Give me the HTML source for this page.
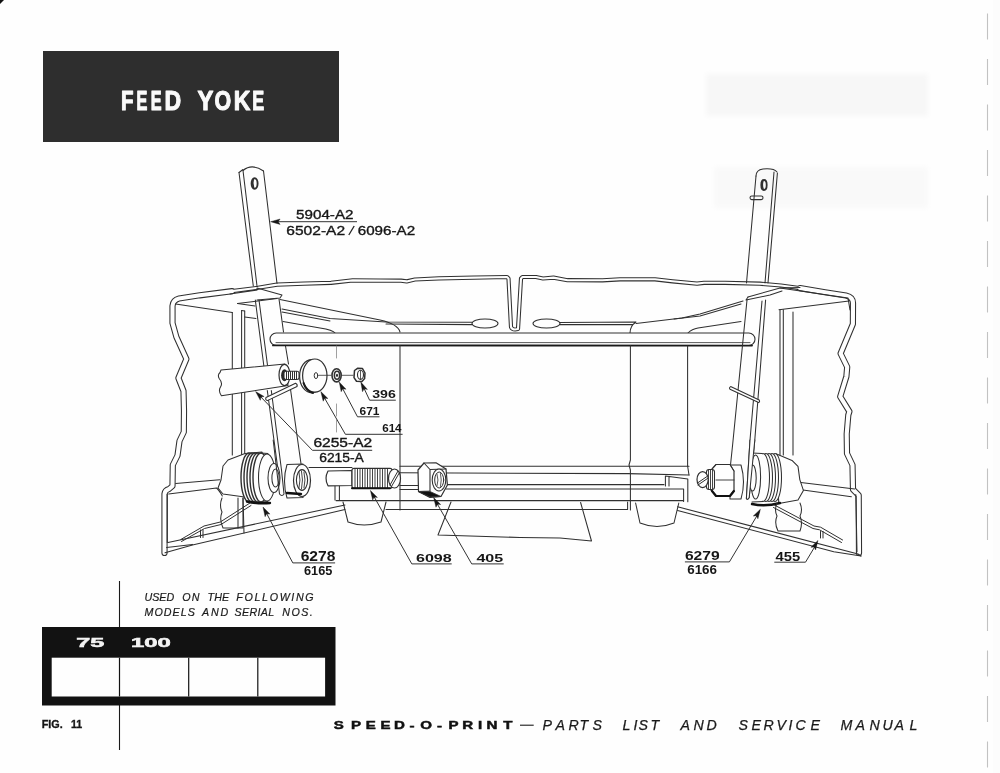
<!DOCTYPE html>
<html><head><meta charset="utf-8"><title>Feed Yoke</title>
<style>
html,body{margin:0;padding:0;background:#fefefe;}
body{width:1000px;height:773px;overflow:hidden;font-family:"Liberation Sans",sans-serif;}
svg{display:block;filter:grayscale(1);}
</style></head><body>
<svg width="1000" height="773" viewBox="0 0 1000 773" font-family="Liberation Sans, sans-serif">
<rect x="0" y="0" width="1000" height="773" fill="#fefefe"/>
<!-- page edge shading -->
<path d="M0 0 L4 0 L0 4 Z" fill="#111"/>
<rect x="997" y="768" width="3" height="5" fill="#222"/>
<rect x="993" y="0" width="7" height="773" fill="#fcfcfc"/>
<!-- faint bleed-through -->
<defs><filter id="bl" x="-10%" y="-30%" width="120%" height="160%"><feGaussianBlur stdDeviation="2.5"/></filter></defs>
<g filter="url(#bl)"><rect x="706" y="74" width="222" height="42" fill="#f7f7f7"/>
<rect x="714" y="167" width="214" height="41" fill="#f9f9f9"/></g>
<!-- dashed right margin line -->
<line x1="987.5" y1="13.5" x2="987.5" y2="770" stroke="#c2c2c2" stroke-width="1.1" stroke-dasharray="26 19.5"/>

<!-- title box -->
<rect x="43" y="51" width="296" height="91" fill="#2e2e2e"/>
<g font-size="27.0" font-weight="bold" fill="#fafafa" stroke="#fafafa" stroke-width="1.1" stroke-linejoin="round"><text transform="translate(120.98,109.9) scale(0.758,1)">F</text><text transform="translate(136.38,109.9) scale(0.605,1)">E</text><text transform="translate(150.68,109.9) scale(0.605,1)">E</text><text transform="translate(164.49,109.9) scale(0.854,1)">D</text><text transform="translate(197.59,109.9) scale(0.884,1)">Y</text><text transform="translate(214.38,109.9) scale(0.793,1)">O</text><text transform="translate(233.79,109.9) scale(0.854,1)">K</text><text transform="translate(252.26,109.9) scale(0.663,1)">E</text></g>

<!-- DIAGRAM -->
<g id="diagram" fill="none" stroke="#303030" stroke-width="1.05" stroke-linejoin="round" stroke-linecap="round">
<g id="framewrap" stroke-width="6.2"><use href="#frameL"/><use href="#frameR"/></g>
<g stroke-width="4.2"><use href="#frameT"/></g>
<g stroke="#fefefe" stroke-width="4.1"><use href="#frameL"/><use href="#frameR"/></g>
<g stroke="#fefefe" stroke-width="2.1"><use href="#frameT"/></g>

<!-- left yoke arm -->
<path d="M243,170.5 Q252,163 263.5,171"/>
<path d="M239,172.5 L243,169.5"/>
<path d="M239,172.5 L253.3,286"/>
<path d="M243,170.5 L257,286"/>
<path d="M263.5,171 L277,283.5"/>
<path d="M255.3,300 L264,367"/>
<path d="M259,300 L267.6,366"/>
<path d="M279,299 L283.5,332"/>
<path d="M267.3,390.5 L278,470"/>
<path d="M271.3,390.5 L281.5,470"/>
<path d="M290.5,389.3 L301,463.8"/>
<path d="M285.5,346 L288.5,364"/>
<ellipse cx="254.6" cy="183.5" rx="3" ry="5.2" stroke-width="1.9"/><path d="M253.2,179.5 Q252,183.5 253.5,187.5" stroke-width="1.6"/>
<!-- yoke guide plates (left) -->
<path d="M230,294 L257,290 L257,288 L282,295 L280,298 L257,300"/>
<path d="M237.5,303.5 L277,298.5"/>
<path d="M237.5,303.5 L255,306"/>
<path d="M280,299.5 L380,320 Q398,324 400,332"/>
<path d="M282,309 L330,318.5 L386,322 L472,322.2 M386,324 L472,324.6"/>
<path d="M282,312 L330,321"/>
<path d="M283,321.5 L320,328 Q333,330 335,333"/>
<ellipse cx="485" cy="323.5" rx="13" ry="4.5"/>
<ellipse cx="546.5" cy="323.5" rx="13.5" ry="4.5"/>
<path d="M560,322.4 L636,322 Q630,326 630,333 M560,324.6 L633,324.4"/>
<path d="M636,323.5 L682,318 L700,314 L743,301"/>
<path d="M674,319 L700,316 L741,304"/>
<path d="M688,333 Q692,329 698,328 L741,321.5"/>
<!-- left back corner lines -->
<path d="M175.6,304 L232.3,312.6"/>
<path d="M232.3,312.6 L232.3,455"/>
<path d="M241.6,310.5 L241.6,455"/>
<path d="M244.7,311 L244.7,455"/>
<path d="M241.6,310.5 L244.7,311"/>
<path d="M244.7,317 L256,318.5"/>
<!-- upper rod -->
<rect x="270" y="333" width="485" height="12.5" rx="6.2" stroke-width="1.1" fill="#fefefe"/>
<path d="M276,342.6 L750,342.6" stroke-width="0.8"/>
<path d="M273,345.4 L752,345.6" stroke-width="1.9" stroke="#1a1a1a"/>
<!-- centre block -->
<path d="M400,345.5 L400,510"/>
<path d="M630.4,345.5 L630.4,460 L629,465 L630.4,470 L630.4,510"/>
<path d="M687.6,346 L687.6,466 L689,475"/>
<path d="M336.5,346 L336.5,362 M336.5,404 L336.5,432" stroke="#888" stroke-dasharray="12 4" stroke-width="0.8"/>
<!-- right yoke arm -->
<path d="M756,176 Q756,170 763,169 Q774,168 777,172"/>
<path d="M756,176 L746.5,283"/>
<path d="M774,172 L765,283"/>
<path d="M777.4,173 L768,283"/>
<path d="M747,300 L732.6,445 L730.5,465"/>
<path d="M762,301 L750,440 L746.4,498.5 Q747.5,500.5 749.2,497.5 L754.8,440 L765.6,300"/>
<ellipse cx="764" cy="185" rx="2.7" ry="5" stroke-width="1.8"/><path d="M762.8,181.2 Q761.8,185 763,188.8" stroke-width="1.5"/>
<rect x="750" y="196" width="13" height="3.6" rx="1.8"/>
<path d="M730.6,386.6 L759.2,400 Q760.2,401.8 758.6,402.6 L730,389.2 Q728.8,387.6 730.6,386.6 Z" fill="#fefefe"/>
<!-- right guide plates -->
<path d="M748,297 L780,288 L800,287.5"/>
<path d="M748,297 L746,300 L770,295 L782,291"/>
<path d="M780,288 L848,298 L850,310"/>

<!-- feed bar region -->
<path d="M309,467.5 L352,467.5 M400,466.3 L689,466.3"/>
<path d="M400,472.8 L628,473.6 L689,475"/>
<path d="M400,485.5 L418,485.5 M446,484.6 L664,484.6"/>
<path d="M400,489.4 L418,489.4 M446,489 L683.6,489 L683.6,501.5"/>
<path d="M336,500.6 L683.6,500.6"/>
<path d="M386,509.4 L627.6,509.4 L627.6,502"/>
<path d="M665.4,476 L687.8,479 L687.8,501.8 M665.4,476 L665.4,486 M669,476.5 L669,486"/>
<path d="M335,486 L335,500 M339.4,486 L339.4,500"/>
<!-- cones -->
<path d="M343,502 L348,522 Q364,528 381,522 L386,502"/>
<path d="M635.6,503 L640,523 Q657,530 674,523 L678.8,503"/>
<!-- paper sheet -->
<path d="M451,502 L438,535 L470,536 L520,537.5 L560,538 L591.5,541 L580.6,502.5"/>
<!-- left bottom flange -->
<path d="M165,552.8 L192.5,545 L345,509.5"/>
<path d="M166.6,547.6 L192.5,544.4"/>
<path d="M168,542.5 L345,505"/>
<path d="M167.3,494.6 L167.3,542.5"/>
<path d="M175.7,483.6 L219.7,479.7"/>
<path d="M168.6,494 L216.5,488 Q219,490 222.3,496"/>
<!-- right bottom flange -->
<path d="M677.6,506.8 L858,554 L861,556"/>
<path d="M677.6,510.4 L833.8,551.8 L861,556"/>
<path d="M800.8,482.5 L854.7,489"/>
<path d="M803,490 L851.4,496.8"/>
<path d="M855.8,494.6 L857,551.8"/>

<!-- ===== left sleeve / stud / washers ===== -->
<path d="M221,370 L285,364 L288,385.6 L221.4,395.7 Q218,391 220.5,387 Q223,383 219.5,379 Q217,375 220,372.5 Z" fill="#fefefe"/>
<ellipse cx="284.5" cy="375" rx="5.5" ry="10.6" fill="#fefefe" stroke-width="1.2"/>
<ellipse cx="284.5" cy="375.2" rx="3.4" ry="6" fill="#2a2a2a" stroke="none"/>
<rect x="284" y="371.3" width="15" height="8.2" rx="2" fill="#fefefe"/>
<path d="M286.5,371.5 L286.5,379.4 M288.5,371.5 L288.5,379.4 M290.5,371.5 L290.5,379.4 M292.5,371.5 L292.5,379.4 M294.5,371.5 L294.5,379.4 M296.5,371.5 L296.5,379.4" stroke-width="1"/>
<!-- spring pin -->
<path d="M266,397.5 L295.5,383.2 Q297.8,384.2 297,386.5 L267.3,400.6 Q265,400 266,397.5 Z" fill="#fefefe"/>
<!-- washer 614 -->
<ellipse cx="311.8" cy="376.2" rx="12.2" ry="16.6" fill="#fefefe" stroke-width="1.2"/>
<ellipse cx="314.8" cy="375.6" rx="12.2" ry="16.6" fill="#fefefe" stroke-width="1.2"/>
<ellipse cx="316" cy="375.6" rx="1.8" ry="3" stroke-width="1"/>
<path d="M303.5,383 Q306,391 313,393" stroke="#1a1a1a" stroke-width="2"/>
<path d="M319,375.3 L331,375.3 M342,375.3 L353,375.3" stroke-width="0.8"/>
<!-- nut 671 -->
<ellipse cx="336.6" cy="375.3" rx="4.6" ry="6.6" fill="#fefefe" stroke-width="1.6"/>
<ellipse cx="337" cy="375.3" rx="2.6" ry="4" stroke-width="1.6"/>
<ellipse cx="337" cy="375.3" rx="1" ry="1.6" fill="#222" stroke="none"/>
<!-- nut 396 -->
<path d="M354.5,370.5 L357.5,368.3 L362.5,368.6 L365,373 L364.6,378.6 L362,381.4 L356.5,381.2 L354,377.6 Z" fill="#fefefe" stroke-width="1.5"/>
<ellipse cx="360.5" cy="374.8" rx="3" ry="4.6" stroke-width="1.1"/>
<path d="M360.5,371 L360.5,378.6" stroke-width="0.8"/>

<!-- ===== left spring collar assembly ===== -->
<path d="M241,496.5 L223,494 L218,488 L221,480 L223,466 L228,460 L245,453.5 L262,452 L262,500 Z" fill="#fefefe"/>
<g stroke-width="1.4">
<ellipse cx="249" cy="477.5" rx="8" ry="24.5" fill="#fefefe"/>
<ellipse cx="252" cy="477.5" rx="8" ry="24.5" fill="#fefefe"/>
<ellipse cx="255" cy="477.5" rx="8" ry="24.5" fill="#fefefe"/>
<ellipse cx="258" cy="477.5" rx="8" ry="24.5" fill="#fefefe"/>
<ellipse cx="261" cy="477.5" rx="8" ry="24.5" fill="#fefefe"/>
</g>
<path d="M261,455 L268,455 L268,500 L261,500 Z" fill="#fefefe" stroke="none"/>
<path d="M261,453 L268,453.5 M261,502 L268,501.5"/>
<ellipse cx="267" cy="477.5" rx="8.5" ry="23.5" fill="#fefefe"/>
<path d="M222,498 Q219,505 222,512 Q219,520 223,528 L243,528 L243,498" fill="none"/>
<path d="M238,498 L238,528 M243,498 L244,533"/>
<ellipse cx="274" cy="478" rx="6" ry="14.5" fill="#fefefe"/>
<ellipse cx="275.5" cy="478" rx="3.6" ry="9" fill="#fefefe"/>
<path d="M247,501.5 Q258,504 270,503" stroke="#111" stroke-width="2.4"/>
<!-- link arm lower part over collar -->
<path d="M273.2,440 L279.5,494 Q282,497 284,494 L281.5,470" fill="none"/>
<!-- nut on link -->
<path d="M287,464.5 L303,464 L303,497.5 L287,498 Q282,481 287,464.5 Z" fill="#fefefe"/>
<ellipse cx="302" cy="480.5" rx="8.5" ry="16" fill="#fefefe" stroke-width="1.2"/>
<ellipse cx="302" cy="480" rx="5.6" ry="10.4" fill="#fefefe" stroke-width="1.1"/>
<path d="M299,472 Q301,480 299,488 M301.5,471 Q303.5,480 301.5,489 M304,472 Q306,480 304,488" stroke-width="0.9"/>
<path d="M287,493 L301,494" stroke="#111" stroke-width="2.5"/>

<!-- ===== screw 6098 ===== -->
<path d="M328,471 L352,470.5 L352,485.5 L328,485.8 Q324,478.5 328,471 Z" fill="#fefefe" stroke-width="1.2"/>
<rect x="352" y="468.3" width="40" height="20" rx="2" fill="#fefefe" stroke-width="1.2"/>
<path d="M355,468.5 L355,488.5 M357.5,468.5 L357.5,488.5 M360,468.5 L360,488.5 M362.5,468.5 L362.5,488.5 M365,468.5 L365,488.5 M367.5,468.5 L367.5,488.5 M370,468.5 L370,488.5 M372.5,468.5 L372.5,488.5 M375,468.5 L375,488.5 M377.5,468.5 L377.5,488.5 M380,468.5 L380,488.5 M382.5,468.5 L382.5,488.5 M385,468.5 L385,488.5 M387.5,468.5 L387.5,488.5" stroke-width="0.9"/>
<path d="M352,488.3 L390,488.3" stroke="#111" stroke-width="2"/>
<ellipse cx="394.5" cy="478.5" rx="6" ry="9.5" fill="#fefefe" stroke-width="1.2"/>
<path d="M390,485 L398,471 M391.5,486.5 L399.5,472.5" stroke-width="1"/>

<!-- ===== nut 405 ===== -->
<path d="M418,470 L424,463 L436,462.8 L446,469 L447.4,485 L441,496.5 L430,497.5 L418.5,491.5 Z" fill="#fefefe" stroke-width="1.2"/>
<path d="M424,463 L430,469.5 L430,491 L418.5,491.5 M430,469.5 L446,469" stroke-width="1.1"/>
<ellipse cx="439" cy="480" rx="6.8" ry="11" fill="#fefefe" stroke-width="1.1"/>
<ellipse cx="439.2" cy="480" rx="4.5" ry="8" stroke-width="1"/>
<path d="M437,474 Q439,480 437,486 M440.5,473.5 Q442,480 440.5,486.5" stroke-width="0.8"/>
<path d="M419,492 L430,497 L441,496.5 L430,491.5 Z" fill="#111" stroke-width="0.8"/>

<!-- ===== right assembly ===== -->
<path d="M776,453.8 L792,460.4 L798,466.4 L799.8,479.6 L803.4,490.4 L798,500 L778.8,503.6 Z" fill="#fefefe"/>
<ellipse cx="775" cy="477.5" rx="6.5" ry="24" fill="#fefefe"/>
<ellipse cx="772" cy="477.5" rx="6.5" ry="24" fill="#fefefe"/>
<ellipse cx="769" cy="477.5" rx="6.5" ry="24" fill="#fefefe"/>
<ellipse cx="766" cy="477.5" rx="6.5" ry="24" fill="#fefefe"/>
<ellipse cx="763" cy="477.5" rx="6.5" ry="24" fill="#fefefe"/>
<path d="M752,453 L762,453.5 L762,501.5 L752,502 Z" fill="#fefefe" stroke="none"/>
<path d="M752,453 L762,453.5 M752,502 L763,501.5"/>
<ellipse cx="755.6" cy="477" rx="5" ry="22" fill="#fefefe"/>
<ellipse cx="752.6" cy="478" rx="3.6" ry="13" fill="#fefefe"/>
<path d="M752,504 Q765,507 780,503" stroke="#111" stroke-width="2.4"/>
<path d="M777,503 Q774,510 777,516 Q774,523 778,531 L800,531 Q803,523 800,516 Q803,510 800,503" fill="none"/>
<!-- arm lower end over collar -->
<path d="M750,440 L746.4,498.5 Q747.5,500.5 749.2,497.5 L754.8,440" fill="#fefefe"/>
<!-- spacer + hex nut -->
<path d="M730,465 L741,465 Q746,482 741,499 L730,499 Z" fill="#fefefe"/>
<path d="M712,469 L716,464.5 L730,464.5 L734,471 L734,490 L730,495.5 L716,495.5 L711,490 Z" fill="#fefefe" stroke-width="1.2"/>
<path d="M716,464.5 L712,469 L711,490 M730,464.5 L734,471 M716,480 L734,480" stroke-width="0.9"/>
<path d="M712,491 L716,496 L730,496 L734,491" stroke="#111" stroke-width="2.2"/>
<rect x="706.5" y="469.5" width="8" height="20" rx="2.5" fill="#fefefe"/>
<path d="M708.5,470 L708.5,489 M710.5,470 L710.5,489 M712.5,470 L712.5,489" stroke-width="0.9"/>
<ellipse cx="702.6" cy="479.6" rx="5.6" ry="8" fill="#fefefe" stroke-width="1.2"/>
<path d="M697.5,483 L707,476.5 M698,485 L707.5,478.5" stroke-width="1"/>

<!-- ===== spring wires ===== -->
<path d="M250,503 L220.3,522 L204,526 L180.8,539.5 M251,505.5 L221,524.5 L204.5,528.5 L181.5,541.5" stroke-width="1"/>
<path d="M200.5,530 L200.5,537.5 M203,530 L203,537.5" stroke-width="1"/>
<path d="M774.4,505 L814,526 L820.6,527.2 L842.6,540 M773.5,507.5 L813,528.5 L819.5,529.8 L841.5,542.5" stroke-width="1"/>
<path d="M820.5,531.5 L820.5,538 M823,531.5 L823,538" stroke-width="1"/>
<!-- right back corner posts -->
<path d="M779,309.7 L849,301"/>
<path d="M780,309.7 L780,455 M783.3,309.7 L783.3,455 M793,312 L793,455"/>
</g>
<defs>
<!-- frame outer contour: double line (dark wide + light narrow) -->
<path id="frameL" d="M164.5,553 L164.5,494 Q165,490 169,489 L172.5,486 L172.8,465 L177.5,455.5 L179.5,441 L183.8,432 L184,411 L183.5,391 L178.4,378 L186.4,359 L176.4,337 L172.5,323 L172.5,306 Q173,300 179,298.5 L199.8,295.3 L232,291.2"/>
<path id="frameT" d="M228,291.6 L258,287.8 L277,284.6 L304,283.6 L331,282.8 L352.7,280.4 L380,280.6 L401,280.7 L406.7,281.4 L414.9,279.5 L439,278.4 L474,277.6 L507,277 L508.5,278.5 L511,327 Q512,329.5 515,329.5 L518,329 L521,278.5 L522.5,277 L536,277 L543,278.5 L553.5,277.6 L567.5,280.2 L602.5,280.3 L620,279.3 L655,279.3 L672.5,281.3 L697,283.6 L704,282.8 L725,282.8 L760,283.7 L781,285.5 L805,288.8"/>
<path id="frameR" d="M800,288.1 L825,292.2 L846,295.5 Q853,297 853,303 L852.9,324 L840.6,353.5 L847.2,367 L846.4,376.5 L840.2,396.7 L849.4,411.5 L848.3,415 L846.7,434 L847,453.5 L852.5,465 L853,489.5 L858.7,495.2 L859,553"/>
</defs>


<!-- LABELS -->
<g id="labels" fill="#161616">
<text x="296.1" y="218.9" font-size="12.7" textLength="57.4" lengthAdjust="spacingAndGlyphs" stroke="#161616" stroke-width="0.35">5904-A2</text>
<text x="286.3" y="235" font-size="12.7" textLength="58.8" lengthAdjust="spacingAndGlyphs" stroke="#161616" stroke-width="0.35">6502-A2</text>
<path d="M348.8,235 L354.2,226" stroke="#222" stroke-width="1.3" fill="none"/>
<text x="357.7" y="235" font-size="12.7" textLength="57.4" lengthAdjust="spacingAndGlyphs" stroke="#161616" stroke-width="0.35">6096-A2</text>
<text x="372.2" y="398.1" font-size="11.8" font-weight="bold" textLength="23.6" lengthAdjust="spacingAndGlyphs">396</text>
<text x="359.6" y="415.4" font-size="11.8" font-weight="bold" textLength="19.9" lengthAdjust="spacingAndGlyphs">671</text>
<text x="382.2" y="431.7" font-size="11.8" font-weight="bold" textLength="19.4" lengthAdjust="spacingAndGlyphs">614</text>
<text x="313.4" y="447" font-size="11.9" textLength="58.8" lengthAdjust="spacingAndGlyphs" stroke="#161616" stroke-width="0.35">6255-A2</text>
<text x="319.2" y="462.2" font-size="12.4" textLength="44.6" lengthAdjust="spacingAndGlyphs" stroke="#161616" stroke-width="0.35">6215-A</text>
<text x="300.7" y="560.7" font-size="14" font-weight="bold" textLength="34.7" lengthAdjust="spacingAndGlyphs">6278</text>
<text x="304" y="574.7" font-size="12.3" font-weight="bold" textLength="28.4" lengthAdjust="spacingAndGlyphs">6165</text>
<text x="416" y="561.8" font-size="11.8" font-weight="bold" textLength="35.7" lengthAdjust="spacingAndGlyphs">6098</text>
<text x="476.4" y="561.8" font-size="11.8" font-weight="bold" textLength="26.8" lengthAdjust="spacingAndGlyphs">405</text>
<text x="684.9" y="560" font-size="12.7" font-weight="bold" textLength="34.8" lengthAdjust="spacingAndGlyphs">6279</text>
<text x="687.2" y="574.3" font-size="12.7" font-weight="bold" textLength="29.8" lengthAdjust="spacingAndGlyphs">6166</text>
<text x="775.6" y="561.3" font-size="12.7" font-weight="bold" textLength="24.7" lengthAdjust="spacingAndGlyphs">455</text>
</g>


<g id="leaders" fill="none" stroke="#333" stroke-width="1">
<path d="M278,221.7 L357,221.7"/>
<path d="M369.6,400.2 L395.8,400.2 M369.6,400.2 L362,384"/>
<path d="M357.5,416.8 L379.5,416.8 M357.5,416.8 L340.5,384.5"/>
<path d="M345.4,434.3 L402.6,434.3 M345.4,434.3 L322.5,394.5"/>
<path d="M312.4,450.3 L372.2,450.3 M312.4,450.3 L258,394"/>
<path d="M292.8,562.9 L335.1,562.9 M292.8,562.9 L264.5,509.5"/>
<path d="M411.8,563.9 L451.7,563.9 M411.8,563.9 L372,493"/>
<path d="M471.7,563.9 L503.7,563.9 M471.7,563.9 L435,500"/>
<path d="M684.9,561.9 L729.4,561.9 M729.4,561.9 L759.5,511.5"/>
<path d="M774.3,562.2 L805.5,562.2 M805.5,562.2 L817,543"/>
</g>
<g id="arrows" fill="#161616" stroke="#161616" stroke-width="0.4" stroke-linejoin="round">
<path d="M270.6,221.7 L280.1,224.4 L278.2,221.7 L280.1,219.0 Z"/>
<path d="M360.8,382.0 L362.5,391.7 L364.1,388.8 L367.4,389.4 Z"/>
<path d="M339.2,382.0 L341.2,391.7 L342.7,388.7 L346.0,389.2 Z"/>
<path d="M320.8,391.6 L323.2,401.2 L324.6,398.2 L327.9,398.5 Z"/>
<path d="M255.6,391.6 L260.3,400.3 L260.9,397.1 L264.1,396.5 Z"/>
<path d="M263.0,507.0 L265.1,516.7 L266.6,513.7 L269.9,514.1 Z"/>
<path d="M370.4,490.4 L372.7,500.0 L374.1,497.0 L377.4,497.4 Z"/>
<path d="M433.6,497.6 L436.0,507.2 L437.4,504.2 L440.7,504.5 Z"/>
<path d="M760.4,509.2 L753.3,516.0 L756.5,515.8 L757.9,518.8 Z"/>
<path d="M818.0,540.4 L810.9,547.3 L814.2,547.0 L815.6,550.0 Z"/>
</g>
<!-- bottom: models box -->
<line x1="119.5" y1="581" x2="119.5" y2="750" stroke="#1a1a1a" stroke-width="1.1"/>
<g font-size="10.7" font-style="italic" fill="#1a1a1a" stroke="#1a1a1a" stroke-width="0.2">
<text x="144.5" y="600.8" textLength="29.7" lengthAdjust="spacing">USED</text>
<text x="182.3" y="600.8" textLength="17.1" lengthAdjust="spacing">ON</text>
<text x="207.5" y="600.8" textLength="21.6" lengthAdjust="spacing">THE</text>
<text x="236.3" y="600.8" textLength="77.4" lengthAdjust="spacing">FOLLOWING</text>
<text x="144.5" y="615.6" textLength="50.4" lengthAdjust="spacing">MODELS</text>
<text x="202" y="615.6" textLength="26.2" lengthAdjust="spacing">AND</text>
<text x="234.5" y="615.6" textLength="39.6" lengthAdjust="spacing">SERIAL</text>
<text x="282.2" y="615.6" textLength="30.6" lengthAdjust="spacing">NOS.</text>
</g>
<rect x="42" y="627" width="293.5" height="78.5" fill="#121212"/>
<rect x="51.7" y="657.7" width="273.4" height="38.8" fill="#fefefe"/>
<line x1="119.5" y1="657.7" x2="119.5" y2="696.5" stroke="#121212" stroke-width="1.2"/>
<line x1="188.7" y1="657.7" x2="188.7" y2="696.5" stroke="#121212" stroke-width="1.2"/>
<line x1="257.8" y1="657.7" x2="257.8" y2="696.5" stroke="#121212" stroke-width="1.2"/>
<text x="76.2" y="646.6" font-size="12.4" font-weight="bold" fill="#f4f4f4" stroke="#f4f4f4" stroke-width="0.5" textLength="28.1" lengthAdjust="spacingAndGlyphs">75</text>
<text x="131" y="646.6" font-size="12.4" font-weight="bold" fill="#f4f4f4" stroke="#f4f4f4" stroke-width="0.5" textLength="39.75" lengthAdjust="spacingAndGlyphs">100</text>
<text x="41.75" y="727.8" font-size="11.1" font-weight="bold" fill="#161616" stroke="#161616" stroke-width="0.35" textLength="21" lengthAdjust="spacingAndGlyphs">FIG.</text><text x="71" y="727.8" font-size="11.1" font-weight="bold" fill="#161616" stroke="#161616" stroke-width="0.35" textLength="11.25" lengthAdjust="spacingAndGlyphs">11</text>

<!-- footer -->
<g transform="scale(1.42,1)" font-size="10.6" font-weight="bold" fill="#111" stroke="#111" stroke-width="0.45"><text x="235.07" y="729.2">S</text><text x="247.18" y="729.2">P</text><text x="257.54" y="729.2">E</text><text x="267.89" y="729.2">E</text><text x="277.46" y="729.2">D</text><text x="288.31" y="729.2">-</text><text x="295.99" y="729.2">O</text><text x="307.75" y="729.2">-</text><text x="315.92" y="729.2">P</text><text x="325.56" y="729.2">R</text><text x="336.62" y="729.2">I</text><text x="342.54" y="729.2">N</text><text x="354.37" y="729.2">T</text></g>
<line x1="520" y1="725.2" x2="533.7" y2="725.2" stroke="#1a1a1a" stroke-width="1.1"/>
<g font-size="14.2" font-style="italic" fill="#1a1a1a" stroke="#1a1a1a" stroke-width="0.25"><text x="542.4" y="729.5">P</text><text x="555.4" y="729.5">A</text><text x="568.4" y="729.5">R</text><text x="579.4" y="729.5">T</text><text x="592.4" y="729.5">S</text><text x="622.4" y="729.5">L</text><text x="633.4" y="729.5">I</text><text x="638.4" y="729.5">S</text><text x="650.4" y="729.5">T</text><text x="680.4" y="729.5">A</text><text x="693.4" y="729.5">N</text><text x="706.4" y="729.5">D</text><text x="738.4" y="729.5">S</text><text x="751.4" y="729.5">E</text><text x="763.4" y="729.5">R</text><text x="776.4" y="729.5">V</text><text x="788.4" y="729.5">I</text><text x="795.4" y="729.5">C</text><text x="810.4" y="729.5">E</text><text x="840.4" y="729.5">M</text><text x="855.4" y="729.5">A</text><text x="869.4" y="729.5">N</text><text x="882.4" y="729.5">U</text><text x="894.4" y="729.5">A</text><text x="909.4" y="729.5">L</text></g>
</svg>
</body></html>
